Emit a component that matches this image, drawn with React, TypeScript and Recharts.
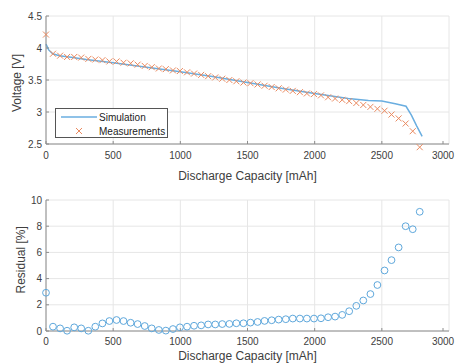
import { CartesianGrid, ComposedChart, Line, Scatter, XAxis, YAxis } from "recharts";

const capacity = [
  0, 52, 105, 157, 210, 262, 315, 367, 420, 472, 525, 577, 630, 682, 735, 787, 840, 892, 945, 997,
  1050, 1102, 1155, 1207, 1260, 1312, 1365, 1417, 1470, 1522, 1575, 1627, 1680, 1732, 1785, 1837,
  1890, 1942, 1995, 2047, 2100, 2152, 2205, 2257, 2310, 2362, 2415, 2467, 2520, 2572, 2625, 2677,
  2730, 2782,
];

const measuredVoltage = [
  4.21, 3.91, 3.88, 3.86, 3.86, 3.85, 3.83, 3.82, 3.81, 3.79, 3.79, 3.77, 3.76, 3.74, 3.72, 3.7,
  3.68, 3.67, 3.65, 3.64, 3.62, 3.6, 3.58, 3.56, 3.54, 3.52, 3.5, 3.48, 3.46, 3.45, 3.43, 3.41,
  3.39, 3.37, 3.35, 3.33, 3.31, 3.29, 3.28, 3.26, 3.23, 3.21, 3.19, 3.17, 3.14, 3.11, 3.08, 3.05,
  3.02, 2.96, 2.9, 2.82, 2.7, 2.45,
];

const residual = [
  2.92, 0.33, 0.2, 0.02, 0.28, 0.2, 0.02, 0.33, 0.58, 0.76, 0.84, 0.76, 0.63, 0.53, 0.38, 0.2,
  0.08, 0.03, 0.15, 0.28, 0.33, 0.4, 0.43, 0.5, 0.5, 0.53, 0.54, 0.59, 0.59, 0.64, 0.69, 0.77,
  0.82, 0.87, 0.9, 0.95, 0.95, 0.95, 0.95, 0.97, 1.05, 1.1, 1.23, 1.51, 1.92, 2.33, 2.82, 3.51,
  4.62, 5.41, 6.38, 8.0, 7.77, 9.1,
];

const simCapacity = [0, 20, 50, 100, 200, 300, 500, 750, 1000, 1250, 1500, 1750, 2000, 2250, 2400, 2500, 2600, 2680, 2720, 2760, 2800];
const simVoltage = [4.06, 3.97, 3.91, 3.88, 3.85, 3.82, 3.77, 3.7, 3.63, 3.55, 3.46, 3.37, 3.29, 3.21, 3.18, 3.17, 3.13, 3.09, 2.95, 2.78, 2.62];

const xTicks = [0, 500, 1000, 1500, 2000, 2500, 3000];
const voltTicks = [2.5, 3, 3.5, 4, 4.5];
const residualTicks = [0, 2, 4, 6, 8, 10];

const measData = capacity.map((c, i) => ({ x: c, v: measuredVoltage[i] }));
const simData = simCapacity.map((c, i) => ({ x: c, v: simVoltage[i] }));
const resData = capacity.map((c, i) => ({ x: c, r: residual[i] }));

const FONT = "'Liberation Sans', Arial, sans-serif";
const TEXT = "#404040";
const AXIS = "#8c8c8c";
const GRID = "#e6e6e6";
const SIM = "#6aaee0";
const MEAS = "#ea8a60";
const RES = "#5fa8dc";

const labelStyle = { fontSize: 12, fill: TEXT, fontFamily: FONT };

// matlab style: small ticks pointing into the plot
const makeXTick = (gap: number) => (props: any) => {
  const { x, y, payload } = props;
  return (
    <g>
      <line x1={x} x2={x} y1={y - gap} y2={y - gap - 3} stroke={AXIS} />
      <text x={x} y={y} dy="0.71em" textAnchor="middle" fontSize={10} fill={TEXT} fontFamily={FONT}>
        {payload.value}
      </text>
    </g>
  );
};

const YTick = (props: any) => {
  const { x, y, payload } = props;
  return (
    <g>
      <line x1={x + 4} x2={x + 7} y1={y} y2={y} stroke={AXIS} />
      <text x={x} y={y} dy="0.355em" textAnchor="end" fontSize={10} fill={TEXT} fontFamily={FONT}>
        {payload.value}
      </text>
    </g>
  );
};

const Cross = (props: any) => {
  const { cx, cy } = props;
  if (cx == null || cy == null) return null;
  const s = 3;
  return (
    <g stroke={MEAS} strokeWidth={1}>
      <line x1={cx - s} y1={cy - s} x2={cx + s} y2={cy + s} />
      <line x1={cx - s} y1={cy + s} x2={cx + s} y2={cy - s} />
    </g>
  );
};

const Ring = (props: any) => {
  const { cx, cy } = props;
  if (cx == null || cy == null) return null;
  return <circle cx={cx} cy={cy} r={3.4} fill="none" stroke={RES} strokeWidth={1} />;
};

// legend drawn as an overlay so it doesn't push the plot area around
const LegendBox = () => (
  <svg width={113} height={30} style={{ position: "absolute", left: 55, top: 108 }}>
    <rect x={0.5} y={0.5} width={112} height={29} fill="#fff" stroke="#555" />
    <line x1={6} y1={9} x2={42} y2={9} stroke={SIM} strokeWidth={1.5} />
    <g stroke={MEAS} strokeWidth={1}>
      <line x1={21} y1={20} x2={27} y2={26} />
      <line x1={21} y1={26} x2={27} y2={20} />
    </g>
    <text x={44} y={13} fontSize={10} fill="#222" fontFamily={FONT}>Simulation</text>
    <text x={44} y={27} fontSize={10} fill="#222" fontFamily={FONT}>Measurements</text>
  </svg>
);

export default function App() {
  return (
    <div style={{ position: "absolute", left: 0, top: 0, width: 459, height: 363, background: "#fff", overflow: "hidden" }}>
      {/* last measurement sits just under 2.5 V, keep it visible like the original */}
      <style>{".meas-scatter { clip-path: none; } .recharts-surface { overflow: visible; }"}</style>
      <ComposedChart width={459} height={180} margin={{ top: 16, right: 10, bottom: 0, left: 0 }}>
        <CartesianGrid stroke={GRID} horizontalValues={voltTicks} verticalValues={xTicks} />
        <XAxis
          type="number"
          dataKey="x"
          domain={[0, 3000]}
          ticks={xTicks}
          height={36}
          tick={makeXTick(8)}
          tickLine={false}
          tickSize={4}
          tickMargin={4}
          stroke={AXIS}
          label={{ value: "Discharge Capacity [mAh]", position: "insideBottom", offset: 0, ...labelStyle }}
        />
        <XAxis xAxisId="top" orientation="top" type="number" domain={[0, 3000]} height={0} tick={false} tickLine={false} stroke="#d0d0d0" />
        <YAxis
          type="number"
          dataKey="v"
          domain={[2.5, 4.5]}
          allowDataOverflow
          ticks={voltTicks}
          width={46}
          tick={YTick}
          tickLine={false}
          tickSize={4}
          tickMargin={0}
          stroke={AXIS}
          label={{ value: "Voltage [V]", angle: -90, position: "insideLeft", offset: 17, dy: 32, ...labelStyle }}
        />
        <YAxis yAxisId="right" orientation="right" type="number" domain={[2.5, 4.5]} width={0} tick={false} tickLine={false} stroke="#d0d0d0" />
        <Line
          data={simData}
          dataKey="v"
          type="linear"
          stroke={SIM}
          strokeWidth={1.5}
          dot={false}
          isAnimationActive={false}
          name="Simulation"
        />
        <Scatter className="meas-scatter" data={measData} dataKey="v" shape={Cross} isAnimationActive={false} name="Measurements" />
      </ComposedChart>
      <LegendBox />
      <ComposedChart width={459} height={183} margin={{ top: 20, right: 10, bottom: 0, left: 0 }}>
        <CartesianGrid stroke={GRID} horizontalValues={residualTicks} verticalValues={xTicks} />
        <XAxis
          type="number"
          dataKey="x"
          domain={[0, 3000]}
          ticks={xTicks}
          height={32}
          tick={makeXTick(7)}
          tickLine={false}
          tickSize={4}
          tickMargin={3}
          stroke={AXIS}
          label={{ value: "Discharge Capacity [mAh]", position: "insideBottom", offset: 3, ...labelStyle }}
        />
        <XAxis xAxisId="top" orientation="top" type="number" domain={[0, 3000]} height={0} tick={false} tickLine={false} stroke="#d0d0d0" />
        <YAxis
          type="number"
          dataKey="r"
          domain={[0, 10]}
          ticks={residualTicks}
          width={46}
          tick={YTick}
          tickLine={false}
          tickSize={4}
          tickMargin={0}
          stroke={AXIS}
          label={{ value: "Residual [%]", angle: -90, position: "insideLeft", offset: 21, dy: 28, ...labelStyle }}
        />
        <YAxis yAxisId="right" orientation="right" type="number" domain={[0, 10]} width={0} tick={false} tickLine={false} stroke="#d0d0d0" />
        <Scatter data={resData} dataKey="r" shape={Ring} isAnimationActive={false} />
      </ComposedChart>
    </div>
  );
}
